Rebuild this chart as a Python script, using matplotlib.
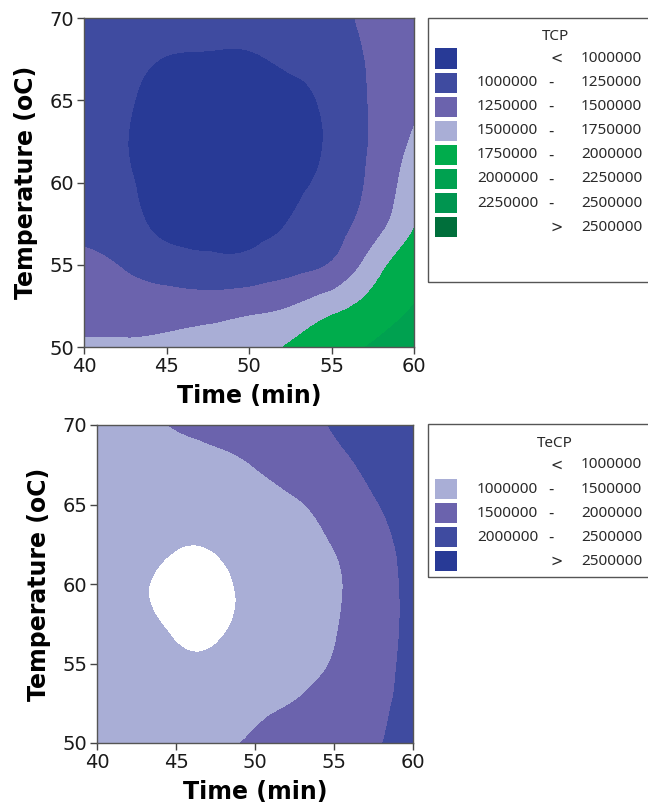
import numpy as np
import matplotlib
matplotlib.use("Agg")
import matplotlib.pyplot as plt
import matplotlib.tri as mtri
from matplotlib.patches import Rectangle

# grid (values in millions)
time_min = [40, 42.5, 45, 47.5, 50, 52.5, 55, 57.5, 60]
temp_c = [50, 52.5, 55, 57.5, 60, 62.5, 65, 67.5, 70]

# rows = temperature (50 -> 70), columns = time (40 -> 60)
tcp = [
    [1.53, 1.53, 1.55, 1.58, 1.64, 1.78, 1.94, 2.02, 2.18],
    [1.40, 1.38, 1.37, 1.38, 1.42, 1.49, 1.66, 1.84, 2.005],
    [1.29, 1.23, 1.12, 1.06, 1.07, 1.16, 1.27, 1.62, 1.92],
    [1.20, 1.11, 0.93, 0.94, 0.95, 1.01, 1.15, 1.38, 1.73],
    [1.14, 1.04, 0.89, 0.88, 0.90, 0.95, 1.07, 1.31, 1.62],
    [1.10, 1.01, 0.88, 0.86, 0.87, 0.93, 1.03, 1.28, 1.53],
    [1.09, 1.03, 0.91, 0.88, 0.89, 0.95, 1.05, 1.28, 1.46],
    [1.10, 1.07, 0.99, 0.97, 0.97, 1.04, 1.10, 1.29, 1.42],
    [1.13, 1.12, 1.11, 1.12, 1.12, 1.16, 1.19, 1.31, 1.40],
]

tecp = [
    [1.30, 1.30, 1.33, 1.42, 1.56, 1.76, 1.88, 1.97, 2.12],
    [1.25, 1.22, 1.22, 1.25, 1.40, 1.51, 1.70, 1.90, 2.12],
    [1.20, 1.13, 1.06, 1.07, 1.25, 1.37, 1.53, 1.83, 2.10],
    [1.17, 1.05, 0.97, 0.95, 1.12, 1.28, 1.46, 1.80, 2.08],
    [1.16, 1.03, 0.95, 0.94, 1.10, 1.25, 1.43, 1.78, 2.10],
    [1.17, 1.07, 1.01, 1.02, 1.14, 1.29, 1.52, 1.83, 2.14],
    [1.20, 1.13, 1.10, 1.15, 1.28, 1.44, 1.70, 1.96, 2.22],
    [1.25, 1.22, 1.28, 1.38, 1.52, 1.74, 1.88, 2.12, 2.33],
    [1.32, 1.33, 1.54, 1.63, 1.78, 1.90, 2.03, 2.30, 2.45],
]

tcp_breaks = [1.0, 1.25, 1.5, 1.75, 2.0, 2.25, 2.5]
tcp_colors = ["#283a96", "#3f4ba0", "#6b63ad", "#a9aed6",
              "#00ac4c", "#00a150", "#009550", "#006f3b"]

tecp_breaks = [1.0, 1.5, 2.0, 2.5]
tecp_colors = ["#ffffff", "#a9aed6", "#6b63ad", "#3f4ba0", "#283a96"]

W, H = 648, 808
fig = plt.figure(figsize=(W / 100, H / 100), dpi=100)
LEG_FONT = ["Noto Sans", "DejaVu Sans"]


def px_box(x0, y0, x1, y1):
    return [x0 / W, 1 - y1 / H, (x1 - x0) / W, (y1 - y0) / H]


def contour_panel(rect, z, breaks, colors):
    ax = fig.add_axes(rect)
    X, Y = np.meshgrid(time_min, temp_c)
    triang = mtri.Triangulation(X.ravel(), Y.ravel())
    refiner = mtri.UniformTriRefiner(triang)
    tri_ref, z_ref = refiner.refine_field(np.asarray(z).ravel(), subdiv=3)
    levels = [-10] + breaks + [10]
    ax.tricontourf(tri_ref, z_ref, levels=levels, colors=colors)
    ax.set_xlim(40, 60)
    ax.set_ylim(50, 70)
    ax.set_xticks([40, 45, 50, 55, 60])
    ax.set_yticks([50, 55, 60, 65, 70])
    ax.tick_params(labelsize=14, length=5, width=1, color="#444444",
                   labelcolor="#1a1a1a", pad=2)
    for s in ax.spines.values():
        s.set_color("#555555")
        s.set_linewidth(1)
    ax.set_xlabel("Time (min)", fontsize=17, fontweight="bold", labelpad=6)
    ax.set_ylabel("Temperature (oC)", fontsize=17, fontweight="bold", labelpad=8)
    return ax


def legend_box(x0, y0, y1, title, breaks, colors, row0, show_first=True):
    fig.patches.append(Rectangle((x0 / W, 1 - y1 / H), (660 - x0) / W, (y1 - y0) / H,
                                 transform=fig.transFigure, fill=False,
                                 edgecolor="#555555", linewidth=1))
    kw = dict(va="center", fontsize=11, color="#2a2a2a", family=LEG_FONT)
    fig.text(555 / W, 1 - (y0 + 19) / H, title, ha="center", **kw)
    labels = [("", "<", f"{int(breaks[0] * 1e6)}")]
    for lo, hi in zip(breaks[:-1], breaks[1:]):
        labels.append((f"{int(lo * 1e6)}", "-", f"{int(hi * 1e6)}"))
    labels.append(("", ">", f"{int(breaks[-1] * 1e6)}"))
    for i, (left, sep, right) in enumerate(labels):
        yc = row0 + i * 24.1
        if i > 0 or show_first:
            fig.patches.append(Rectangle((435 / W, 1 - (yc + 10) / H), 22 / W, 20 / H,
                                         transform=fig.transFigure,
                                         facecolor=colors[i], edgecolor="none"))
        if left:
            fig.text(538 / W, 1 - yc / H, left, ha="right", **kw)
        fig.text((551 if sep == "-" else 557) / W, 1 - yc / H, sep, ha="center",
                 va="center", fontsize=10.5, color="#2a2a2a", family="DejaVu Sans")
        fig.text(581 / W, 1 - yc / H, right, ha="left", **kw)


contour_panel(px_box(84, 18, 414, 347), tcp, tcp_breaks, tcp_colors)
contour_panel(px_box(97, 425, 413, 743), tecp, tecp_breaks, tecp_colors)

legend_box(428, 18, 282, "TCP", tcp_breaks, tcp_colors, 58.5)
legend_box(428, 424, 577, "TeCP", tecp_breaks, tecp_colors, 465, show_first=False)

fig.savefig("out.png", dpi=100)
